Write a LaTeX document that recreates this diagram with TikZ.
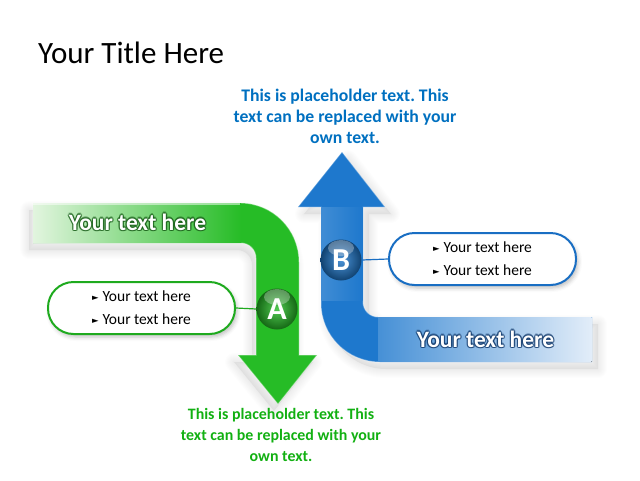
\documentclass[tikz,border=0pt]{standalone}
\usepackage{fontspec}
\setmainfont{Carlito}
\newfontfamily\symfont{DejaVu Sans}
\usetikzlibrary{shadows.blur}
\definecolor{gmain}{RGB}{38,188,38}
\definecolor{gpale}{RGB}{226,245,223}
\definecolor{gborder}{RGB}{30,170,30}
\definecolor{gtext}{RGB}{18,176,18}
\definecolor{gdark}{RGB}{25,95,25}
\definecolor{bmain}{RGB}{30,120,205}
\definecolor{bpale}{RGB}{226,237,249}
\definecolor{bborder}{RGB}{25,110,195}
\definecolor{btext}{RGB}{0,112,192}
\definecolor{bdark}{RGB}{20,60,110}
\newcommand\tri{{\symfont\fontsize{8.5}{8.5}\selectfont\raisebox{1pt}{►}}\hspace{4pt}}
\newcommand\gpath{(33,203) -- (240,203) .. controls (272.6,203) and (299,229.4) .. (299,262) -- (299,355) -- (317,355)
  -- (278,404) -- (238,355) -- (256,355) -- (256,258) .. controls (256,249.7) and (249.3,243) .. (241,243)
  -- (33,243) -- cycle}
\newcommand\bpath{(342,152) -- (385,207) -- (363,207) -- (363,302) .. controls (363,310.3) and (369.7,317) .. (378,317)
  -- (592,317) -- (592,362) -- (380,362) .. controls (347.4,362) and (321,335.6) .. (321,303)
  -- (321,207) -- (298,207) -- cycle}
\tikzset{
  bullbox/.style={draw=#1, line width=2pt, rounded corners=25.5pt, minimum width=187pt, minimum height=52pt,
    fill=white, align=left, inner sep=0pt, font=\fontsize{15.5}{23}\selectfont,
    blur shadow={shadow xshift=2pt, shadow yshift=-3pt, shadow blur radius=4pt, shadow opacity=25}},
  ballnode/.style n args={2}{circle, minimum size=41pt, inner sep=0pt, inner color=#1, outer color=#2, text=white,
    font=\bfseries\fontsize{32}{32}\selectfont},
  bandtxt/.style={font=\bfseries\fontsize{23.5}{23.5}\selectfont, inner sep=0pt},
  phtxt/.style={font=\bfseries\fontsize{#1}{21}\selectfont, align=center, inner sep=0pt},
  conn/.style={draw=#1, line width=1.2pt},
  shadowstroke/.style={draw=black, draw opacity=0.009, line width=#1, line join=round}
}
\frenchspacing
\begin{document}
\begin{tikzpicture}[x=1pt,y=-1pt]
\useasboundingbox (0,0) rectangle (640,480);
% title
\node[anchor=base west, inner sep=0pt, font=\fontsize{31}{37}\selectfont] (title) at (38,63) {Your Title Here};
% soft shadows
\begin{scope}[shift={(6,7)}]
  \path[fill=black, fill opacity=0.05] \bpath;
  \foreach \w in {2pt,4pt,6pt,8pt,10pt,12pt,14pt,16pt,18pt} \path[shadowstroke=\w] \bpath;
\end{scope}
\begin{scope}[shift={(-4,7)}]
  \path[fill=black, fill opacity=0.05] \gpath;
  \foreach \w in {2pt,4pt,6pt,8pt,10pt,12pt,14pt,16pt,18pt} \path[shadowstroke=\w] \gpath;
\end{scope}
% blue arrow
\path[fill=bmain, draw=white, draw opacity=0.35, line width=1pt] \bpath;
\fill[left color=bmain!85!white, right color=bmain] (321.5,207.5) rectangle (362.5,300);
\fill[left color=bmain!82!white, right color=bpale] (378.5,317.5) rectangle (591.5,361.5);
% green arrow
\path[fill=gmain, draw=white, draw opacity=0.35, line width=1pt] \gpath;
\fill[left color=gpale, right color=gmain] (33,203.5) rectangle (241,242.5);
\draw[white, opacity=0.5, line width=1.2pt] (33,204) -- (240,204);
% band texts (dark halo + white text)
\foreach \dx/\dy in {1.3/0,-1.3/0,0/1.3,0/-1.3,0.9/0.9,-0.9/0.9,0.9/-0.9,-0.9/-0.9}{
  \node[bandtxt, text=gdark, opacity=0.55, xshift=\dx pt, yshift=\dy pt] at (137.5,222) {Your text here};
  \node[bandtxt, text=bdark, opacity=0.55, xshift=\dx pt, yshift=\dy pt] at (485.5,339) {Your text here};
}
\node[bandtxt, text=white] (gband) at (137.5,222) {Your text here};
\node[bandtxt, text=white] (bband) at (485.5,339) {Your text here};
% boxes
\node[bullbox=gborder] (boxA) at (141.5,308) {\tri Your text here\\\tri Your text here};
\node[bullbox=bborder] (boxB) at (482.5,259) {\tri Your text here\\\tri Your text here};
% balls
\node[ballnode={gmain!80!white}{gmain!55!black}] (A) at (277,309) {A};
\node[ballnode={bmain!80!white}{bmain!55!black}] (B) at (341,260) {B};
\fill[white, opacity=0.3] (277,297) ellipse [x radius=13pt, y radius=8pt];
\fill[white, opacity=0.3] (341,248) ellipse [x radius=13pt, y radius=8pt];
\draw[conn=gborder] (boxA.east) -- (A.west);
\draw[conn=bborder] (B.east) -- (boxB.west);
% placeholder texts
\node[phtxt=17.7, text=btext] (phB) at (345,116) {This is placeholder text. This\\text can be replaced with your\\own text.};
\node[phtxt=15.9, text=gtext] (phA) at (281,435) {This is placeholder text. This\\text can be replaced with your\\own text.};
\end{tikzpicture}
\end{document}
